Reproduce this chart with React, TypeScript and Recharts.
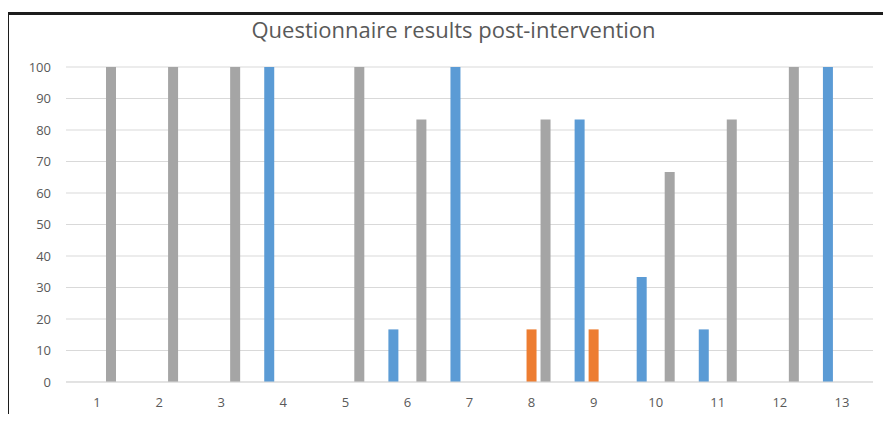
import React from "react";
import {
  BarChart,
  Bar,
  XAxis,
  YAxis,
  CartesianGrid,
} from "recharts";

/* ── Questionnaire results post-intervention ── */

const questions = ["1", "2", "3", "4", "5", "6", "7", "8", "9", "10", "11", "12", "13"];
const blueValues = [0, 0, 0, 100, 0, 16.7, 100, 0, 83.3, 33.3, 16.7, 0, 100];
const orangeValues = [0, 0, 0, 0, 0, 0, 0, 16.7, 16.7, 0, 0, 0, 0];
const grayValues = [100, 100, 100, 0, 100, 83.3, 0, 83.3, 0, 66.7, 83.3, 100, 0];
const yTicks = [0, 10, 20, 30, 40, 50, 60, 70, 80, 90, 100];

const data = questions.map((q, i) => ({
  q,
  a: blueValues[i],
  b: orangeValues[i],
  c: grayValues[i],
}));

const FONT = "'Open Sans', 'Liberation Sans', sans-serif";

export default function App() {
  return (
    <div
      style={{
        position: "relative",
        width: 891,
        height: 422,
        margin: -8,
        background: "#fff",
        overflow: "hidden",
        fontFamily: FONT,
      }}
    >
      <div
        style={{
          position: "absolute",
          left: 6,
          top: 12,
          width: 900,
          height: 420,
          borderLeft: "3px solid #1c1c1c",
          borderTop: "3px solid #1c1c1c",
        }}
      />
      <div
        style={{
          position: "absolute",
          left: 0,
          top: 14,
          width: 907,
          textAlign: "center",
          fontSize: 22,
          lineHeight: "30px",
          color: "#595959",
        }}
      >
        Questionnaire results post-intervention
      </div>
      <div style={{ position: "absolute", left: 0, top: 0 }}>
        <BarChart
          width={891}
          height={422}
          data={data}
          margin={{ top: 67, right: 18, bottom: 10, left: 0 }}
          barSize={10}
          barGap={4}
          style={{ fontSize: 13, fontFamily: FONT }}
        >
          <CartesianGrid vertical={false} stroke="#d9d9d9" />
          <XAxis
            dataKey="q"
            height={30}
            fontSize={13}
            axisLine={{ stroke: "#d9d9d9" }}
            tickLine={false}
            tickSize={0}
            tickMargin={16}
            tick={{ fontSize: 13, fill: "#595959" }}
            interval={0}
          />
          <YAxis
            width={66}
            fontSize={13}
            domain={[0, 100]}
            ticks={yTicks}
            axisLine={false}
            tickLine={false}
            tickSize={0}
            tickMargin={15}
            tick={{ fontSize: 13, fill: "#595959" }}
          />
          <Bar dataKey="a" fill="#5b9bd5" isAnimationActive={false} />
          <Bar dataKey="b" fill="#ed7d31" isAnimationActive={false} />
          <Bar dataKey="c" fill="#a5a5a5" isAnimationActive={false} />
        </BarChart>
      </div>
    </div>
  );
}
